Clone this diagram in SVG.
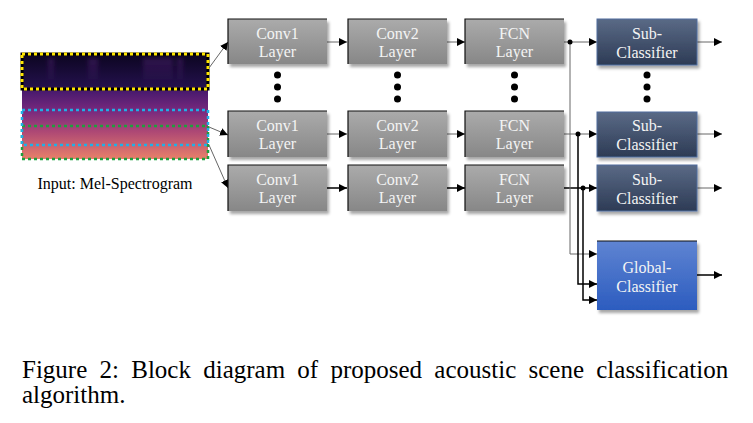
<svg xmlns="http://www.w3.org/2000/svg" width="753" height="423" viewBox="0 0 753 423">
<defs>
  <linearGradient id="gGray" x1="0" y1="0" x2="0" y2="1">
    <stop offset="0" stop-color="#ababab"/>
    <stop offset="1" stop-color="#878787"/>
  </linearGradient>
  <linearGradient id="gSub" x1="0" y1="0" x2="0" y2="1">
    <stop offset="0" stop-color="#5a6a86"/>
    <stop offset="1" stop-color="#2d3b55"/>
  </linearGradient>
  <linearGradient id="gGlob" x1="0" y1="0" x2="0" y2="1">
    <stop offset="0" stop-color="#5f84d2"/>
    <stop offset="1" stop-color="#2c5cbf"/>
  </linearGradient>
  <linearGradient id="gSpec" x1="0" y1="0" x2="0" y2="1">
    <stop offset="0" stop-color="#0c0520"/>
    <stop offset="0.3" stop-color="#22104a"/>
    <stop offset="0.36" stop-color="#4a1a6e"/>
    <stop offset="0.55" stop-color="#7a2a7e"/>
    <stop offset="0.75" stop-color="#b04a74"/>
    <stop offset="1" stop-color="#e8806a"/>
  </linearGradient>
  <linearGradient id="gStreak" x1="0" y1="0" x2="0" y2="1">
    <stop offset="0" stop-color="#6a2a90" stop-opacity="0.35"/>
    <stop offset="1" stop-color="#6a2a90" stop-opacity="0"/>
  </linearGradient>
  <filter id="shadow" x="-10%" y="-10%" width="130%" height="140%">
    <feDropShadow dx="2" dy="3" stdDeviation="1.5" flood-color="#000" flood-opacity="0.35"/>
  </filter>
  <filter id="blur" x="-20%" y="-20%" width="140%" height="140%">
    <feGaussianBlur stdDeviation="2"/>
  </filter>
  <marker id="ah" viewBox="0 0 10 10" refX="10" refY="5" markerWidth="8" markerHeight="8" markerUnits="userSpaceOnUse" orient="auto">
    <path d="M0,0 L10,5 L0,10 z" fill="#000"/>
  </marker>
</defs>
<style>
  .gray { fill: url(#gGray); filter: url(#shadow); }
  .sub { fill: url(#gSub); stroke: #4f6c9e; stroke-width: 1; filter: url(#shadow); }
  .glob { fill: url(#gGlob); filter: url(#shadow); }
  .edge { stroke: #111; stroke-width: 1.2; fill: none; }
  .lbl { font-size: 16px; fill: #f4f4f4; text-anchor: middle; }
  .cap { font-size: 25px; fill: #000; }
  .thin { stroke: #666; stroke-width: 1; fill: none; }
  .thick { stroke: #000; stroke-width: 1.5; fill: none; }
  .dot { fill: #000; }
</style>

<g id="spectrogram">
  <rect x="22" y="54" width="186" height="105" fill="url(#gSpec)"/>
  <g filter="url(#blur)">
    <rect x="48" y="58" width="6" height="28" fill="url(#gStreak)"/>
    <rect x="88" y="58" width="10" height="28" fill="url(#gStreak)"/>
    <rect x="143" y="58" width="30" height="28" fill="url(#gStreak)"/>
    <rect x="177" y="58" width="6" height="28" fill="url(#gStreak)"/>
  </g>
  <rect x="22" y="54" width="186" height="35" fill="none" stroke="#000" stroke-width="3"/>
  <rect x="22" y="54" width="186" height="35" fill="none" stroke="#ffe500" stroke-width="3" stroke-dasharray="3 3"/>
  <rect x="22" y="126" width="186" height="33" fill="none" stroke="#1f9e3e" stroke-width="2.5" stroke-dasharray="3 3"/>
  <rect x="22" y="110" width="186" height="35" fill="none" stroke="#1fb0e6" stroke-width="2.5" stroke-dasharray="3 3"/>
  <text x="115" y="189" font-family="Liberation Serif, Times New Roman, serif" font-size="16" fill="#000" text-anchor="middle">Input: Mel-Spectrogram</text>
</g>

<g id="connectors">
  <line x1="209" y1="68" x2="228" y2="42" class="thin" marker-end="url(#ah)"/>
  <line x1="209" y1="127" x2="228" y2="135" class="thin" marker-end="url(#ah)"/>
  <line x1="209" y1="145" x2="228" y2="188" class="thin" marker-end="url(#ah)"/>

  <line x1="327" y1="42" x2="347" y2="42" class="thin" marker-end="url(#ah)"/>
  <line x1="447" y1="42" x2="465" y2="42" class="thin" marker-end="url(#ah)"/>
  <line x1="564" y1="42" x2="597" y2="42" class="thin" marker-end="url(#ah)"/>
  <line x1="697" y1="42" x2="722" y2="42" class="thin" marker-end="url(#ah)"/>

  <line x1="327" y1="134" x2="347" y2="134" class="thin" marker-end="url(#ah)"/>
  <line x1="447" y1="134" x2="465" y2="134" class="thin" marker-end="url(#ah)"/>
  <line x1="564" y1="134" x2="597" y2="134" class="thin" marker-end="url(#ah)"/>
  <line x1="697" y1="134" x2="722" y2="134" class="thin" marker-end="url(#ah)"/>

  <line x1="327" y1="188" x2="347" y2="188" class="thick" marker-end="url(#ah)"/>
  <line x1="447" y1="188" x2="465" y2="188" class="thick" marker-end="url(#ah)"/>
  <line x1="564" y1="188" x2="597" y2="188" class="thick" marker-end="url(#ah)"/>
  <line x1="697" y1="188" x2="722" y2="188" class="thin" marker-end="url(#ah)"/>

  <polyline points="570,42 570,254 597,254" class="thin" marker-end="url(#ah)"/>
  <polyline points="578,134 578,284 597,284" class="thick" marker-end="url(#ah)"/>
  <polyline points="583,188 583,300 597,300" class="thick" marker-end="url(#ah)"/>
  <line x1="697" y1="275" x2="722" y2="275" class="thick" marker-end="url(#ah)"/>

  <circle cx="570" cy="42" r="2.5" class="dot"/>
  <circle cx="578" cy="134" r="2.5" class="dot"/>
  <circle cx="583" cy="188" r="2.5" class="dot"/>
</g>

<g font-family="Liberation Serif, Times New Roman, serif">
<g id="conv1-1">
  <rect x="228" y="19" width="99" height="45" class="gray"/>
  <path d="M228,64 L228,19 L327,19" class="edge"/>
  <text x="277.5" y="39" class="lbl">Conv1</text>
  <text x="277.5" y="57" class="lbl">Layer</text>
</g>
<g id="conv2-1">
  <rect x="348" y="19" width="99" height="45" class="gray"/>
  <path d="M348,64 L348,19 L447,19" class="edge"/>
  <text x="397.5" y="39" class="lbl">Conv2</text>
  <text x="397.5" y="57" class="lbl">Layer</text>
</g>
<g id="fcn-1">
  <rect x="465" y="19" width="99" height="45" class="gray"/>
  <path d="M465,64 L465,19 L564,19" class="edge"/>
  <text x="514.5" y="39" class="lbl">FCN</text>
  <text x="514.5" y="57" class="lbl">Layer</text>
</g>
<g id="sub-1">
  <rect x="597" y="19" width="100" height="46" class="sub"/>
  <text x="647" y="39" class="lbl">Sub-</text>
  <text x="647" y="58" class="lbl">Classifier</text>
</g>

<g id="conv1-2">
  <rect x="228" y="111" width="99" height="46" class="gray"/>
  <path d="M228,157 L228,111 L327,111" class="edge"/>
  <text x="277.5" y="131" class="lbl">Conv1</text>
  <text x="277.5" y="149" class="lbl">Layer</text>
</g>
<g id="conv2-2">
  <rect x="348" y="111" width="99" height="46" class="gray"/>
  <path d="M348,157 L348,111 L447,111" class="edge"/>
  <text x="397.5" y="131" class="lbl">Conv2</text>
  <text x="397.5" y="149" class="lbl">Layer</text>
</g>
<g id="fcn-2">
  <rect x="465" y="111" width="99" height="46" class="gray"/>
  <path d="M465,157 L465,111 L564,111" class="edge"/>
  <text x="514.5" y="131" class="lbl">FCN</text>
  <text x="514.5" y="149" class="lbl">Layer</text>
</g>
<g id="sub-2">
  <rect x="597" y="112" width="100" height="45" class="sub"/>
  <text x="647" y="131" class="lbl">Sub-</text>
  <text x="647" y="150" class="lbl">Classifier</text>
</g>

<g id="conv1-3">
  <rect x="228" y="165" width="99" height="46" class="gray"/>
  <path d="M228,211 L228,165 L327,165" class="edge"/>
  <text x="277.5" y="185" class="lbl">Conv1</text>
  <text x="277.5" y="203" class="lbl">Layer</text>
</g>
<g id="conv2-3">
  <rect x="348" y="165" width="99" height="46" class="gray"/>
  <path d="M348,211 L348,165 L447,165" class="edge"/>
  <text x="397.5" y="185" class="lbl">Conv2</text>
  <text x="397.5" y="203" class="lbl">Layer</text>
</g>
<g id="fcn-3">
  <rect x="465" y="165" width="99" height="46" class="gray"/>
  <path d="M465,211 L465,165 L564,165" class="edge"/>
  <text x="514.5" y="185" class="lbl">FCN</text>
  <text x="514.5" y="203" class="lbl">Layer</text>
</g>
<g id="sub-3">
  <rect x="597" y="165" width="100" height="46" class="sub"/>
  <text x="647" y="185" class="lbl">Sub-</text>
  <text x="647" y="204" class="lbl">Classifier</text>
</g>

<g id="global-classifier">
  <rect x="597" y="241" width="100" height="69" class="glob"/>
  <path d="M597,241 L697,241" class="edge"/>
  <text x="647" y="273" class="lbl">Global-</text>
  <text x="647" y="292" class="lbl">Classifier</text>
</g>
</g>

<g id="ellipses">
  <circle cx="277.5" cy="75" r="3.5" class="dot"/>
  <circle cx="277.5" cy="87" r="3.5" class="dot"/>
  <circle cx="277.5" cy="99" r="3.5" class="dot"/>
  <circle cx="397.5" cy="75" r="3.5" class="dot"/>
  <circle cx="397.5" cy="87" r="3.5" class="dot"/>
  <circle cx="397.5" cy="99" r="3.5" class="dot"/>
  <circle cx="514.5" cy="75" r="3.5" class="dot"/>
  <circle cx="514.5" cy="87" r="3.5" class="dot"/>
  <circle cx="514.5" cy="99" r="3.5" class="dot"/>
  <circle cx="647" cy="75" r="3.5" class="dot"/>
  <circle cx="647" cy="87" r="3.5" class="dot"/>
  <circle cx="647" cy="99" r="3.5" class="dot"/>
</g>

<g id="caption" font-family="Liberation Serif, Times New Roman, serif">
  <text x="22" y="378" class="cap" word-spacing="6">Figure 2: Block diagram of proposed acoustic scene classification</text>
  <text x="22" y="403" class="cap">algorithm.</text>
</g>
</svg>
